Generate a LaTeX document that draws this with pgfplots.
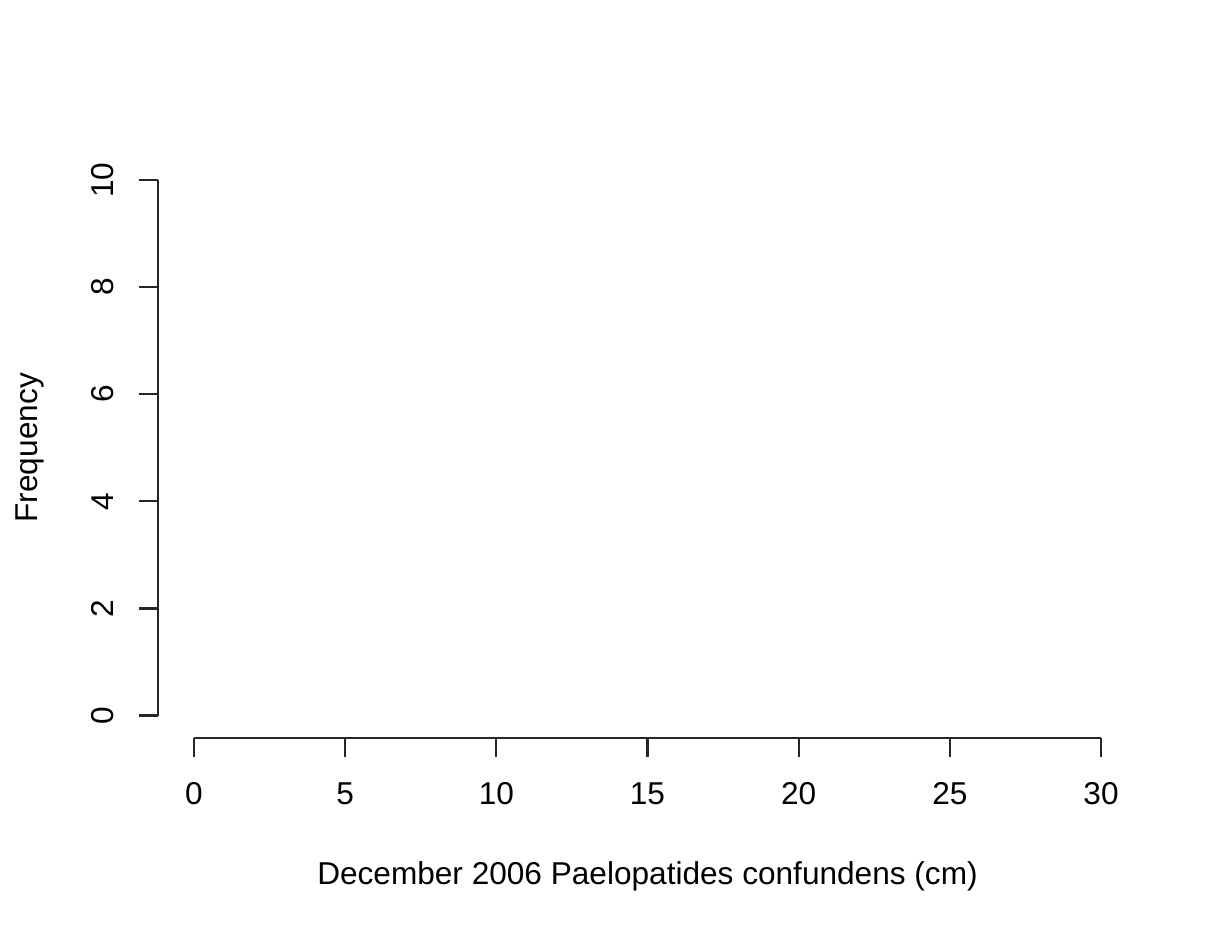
\documentclass[border=0pt]{standalone}
\usepackage{fontspec}
\setmainfont{Liberation Sans}
\usepackage{pgfplots}
\pgfplotsset{compat=1.18}
\begin{document}
\fontsize{15.8pt}{19pt}\selectfont
\begin{tikzpicture}
  % canvas: 1220x934 px at 0.5pt per px
  \path[use as bounding box] (0,0) rectangle (610pt,467pt);
  \begin{axis}[
    at={(97pt,109.25pt)},
    anchor=south west,
    scale only axis,
    width=453.5pt,
    height=267.75pt,
    xmin=0, xmax=30,
    ymin=0, ymax=10,
    xtick={0,5,...,30},
    ytick={0,2,...,10},
    axis x line=bottom,
    axis y line=left,
    axis x line shift=11.4pt,
    axis y line shift=18pt,
    axis line style={-, line width=1.1pt, black!85},
    tick style={line width=1.1pt, black!85},
    tick align=outside,
    major tick length=9.5pt,
    /pgf/number format/assume math mode=true,
    xticklabel style={anchor=base, inner sep=0pt},
    yticklabel style={rotate=90, anchor=base, inner sep=0pt},
    xticklabel shift=23.5pt,
    yticklabel shift=12.5pt,
    xlabel={December 2006 Paelopatides confundens (cm)},
    ylabel={Frequency},
    xlabel style={at={(axis description cs:0.5,-0.3165)}, anchor=base, inner sep=0pt},
    ylabel style={at={(axis description cs:-0.172,0.5)}, anchor=base, inner sep=0pt},
  ]
  \end{axis}
\end{tikzpicture}
\end{document}
